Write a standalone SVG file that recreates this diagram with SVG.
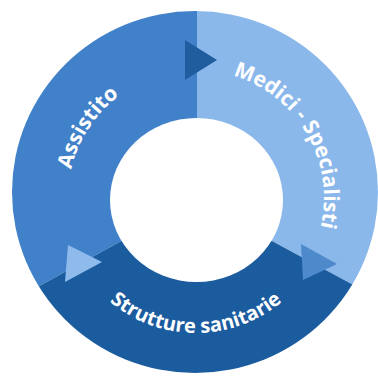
<svg xmlns="http://www.w3.org/2000/svg" width="378" height="376" viewBox="0 0 378 376">
  <defs>
    <clipPath id="ring">
      <ellipse cx="195" cy="192" rx="183" ry="181"/>
    </clipPath>
    <path id="p-assistito" d="M 81.95 256.1 A 128 128 0 0 1 202.7 70.2"/>
    <path id="p-medici" d="M 196 70 A 128 128 0 0 1 306.85 262"/>
    <path id="p-strutture" d="M 79.95 266 A 134 134 0 0 0 312.05 266"/>
  </defs>
  <style>
    .lbl { font-family: "Open Sans", "DejaVu Sans", sans-serif; font-weight: 700; font-size: 21px; fill: #ffffff; }
    .bot { font-size: 20px; }
    .mid { fill: #4181c9; }
    .light { fill: #8bb8eb; }
    .dark { fill: #1b5c9f; }
  </style>
  <rect width="378" height="376" fill="#ffffff"/>
  <g clip-path="url(#ring)">
    <g id="assistito">
      <polygon class="mid" points="196,200 -10,313 -10,-10 197,-10 197,200"/>
    </g>
    <g id="medici-specialisti">
      <polygon class="light" points="197,200 197,-10 400,-10 400,310 196,200"/>
    </g>
    <g id="strutture-sanitarie">
      <polygon class="dark" points="196,200 400,310 400,400 -10,400 -10,313"/>
    </g>
  </g>
  <ellipse cx="196.5" cy="200" rx="86.5" ry="82" fill="#ffffff"/>
  <g id="labels">
    <text class="lbl"><textPath href="#p-assistito" startOffset="50%" text-anchor="middle">Assistito</textPath></text>
    <text class="lbl"><textPath href="#p-medici" startOffset="50%" text-anchor="middle">Medici - Specialisti</textPath></text>
    <text class="lbl bot"><textPath href="#p-strutture" startOffset="50%" text-anchor="middle">Strutture sanitarie</textPath></text>
  </g>
  <g id="connectors">
    <polygon points="185,40 185,80 217,60" fill="#1f5d9e"/>
    <polygon points="68,245 65,282 102,262" fill="#8fbbec"/>
    <polygon points="301,244 303,280 337,264" fill="#4d89cb"/>
  </g>
</svg>
